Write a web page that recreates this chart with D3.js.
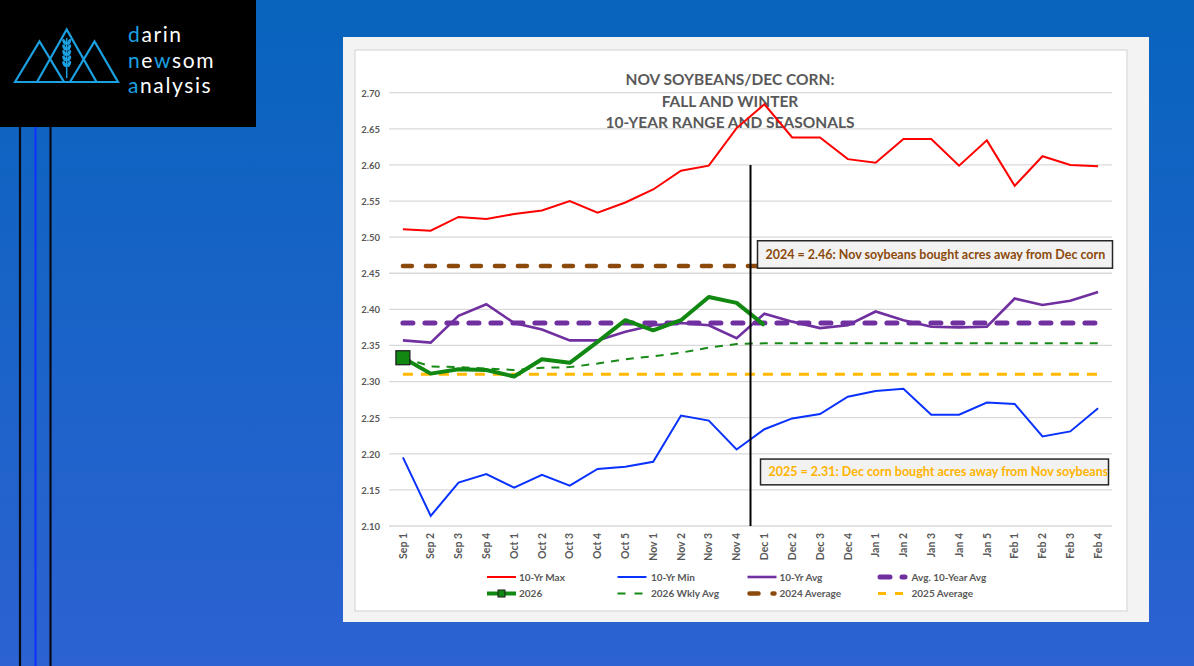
<!DOCTYPE html>
<html>
<head>
<meta charset="utf-8">
<script src="https://cdn.jsdelivr.net/npm/d3@7"></script>
<style>
  body { margin:0; padding:0; overflow:hidden; }
  #chart-area { width:1194px; height:666px; }
  text { font-family: Lato, "Open Sans", sans-serif; }
</style>
</head>
<body>
<div id="chart-area"></div>
<script>
// weekly categories, Sep through Feb
var cats = ["Sep 1","Sep 2","Sep 3","Sep 4","Oct 1","Oct 2","Oct 3","Oct 4","Oct 5",
            "Nov 1","Nov 2","Nov 3","Nov 4","Dec 1","Dec 2","Dec 3","Dec 4",
            "Jan 1","Jan 2","Jan 3","Jan 4","Jan 5","Feb 1","Feb 2","Feb 3","Feb 4"];

var maxVals = [2.511,2.509,2.528,2.525,2.532,2.537,2.550,2.534,2.548,2.566,2.592,2.599,2.651,
               2.684,2.638,2.638,2.608,2.603,2.636,2.636,2.599,2.634,2.571,2.612,2.600,2.598];
var minVals = [2.195,2.114,2.160,2.172,2.153,2.171,2.156,2.179,2.182,2.189,2.253,2.246,2.206,
               2.234,2.249,2.255,2.279,2.287,2.290,2.254,2.254,2.271,2.269,2.224,2.231,2.263];
var avgVals = [2.357,2.354,2.391,2.407,2.381,2.372,2.357,2.357,2.369,2.378,2.381,2.378,2.360,
               2.394,2.383,2.374,2.378,2.397,2.385,2.376,2.375,2.376,2.415,2.406,2.412,2.424];
var vals2026 = [2.333,2.311,2.317,2.316,2.307,2.331,2.326,2.355,2.385,2.371,2.385,2.417,2.409,2.378];
var wklyAvg = [2.333,2.321,2.320,2.318,2.316,2.319,2.320,2.325,2.331,2.335,2.340,2.347,2.352,
               2.353,2.353,2.353,2.353,2.353,2.353,2.353,2.353,2.353,2.353,2.353,2.353,2.353];
var avg10 = 2.381, avg2024 = 2.46, avg2025 = 2.31;
var yTicks = [2.10,2.15,2.20,2.25,2.30,2.35,2.40,2.45,2.50,2.55,2.60,2.65,2.70];
var titleLines = ["NOV SOYBEANS/DEC CORN:", "FALL AND WINTER", "10-YEAR RANGE AND SEASONALS"];
var note2024 = "2024 = 2.46: Nov soybeans bought acres away from Dec corn";
var note2025 = "2025 = 2.31: Dec corn bought acres away from Nov soybeans";

document.addEventListener("DOMContentLoaded", function (event) {

  var W = 1194, H = 666;
  var svg = d3.select("#chart-area")
      .append("svg")
          .attr("width", W)
          .attr("height", H);

  // blue slide background
  var defs = svg.append("defs");
  var grad = defs.append("linearGradient").attr("id", "bg").attr("x1", 0).attr("y1", 0).attr("x2", 0).attr("y2", 1);
  grad.append("stop").attr("offset", "0%").attr("stop-color", "#0864bd");
  grad.append("stop").attr("offset", "100%").attr("stop-color", "#2c62d2");
  svg.append("rect").attr("width", W).attr("height", H).attr("fill", "url(#bg)");

  // clip for the annotation text that runs past its box
  defs.append("clipPath").attr("id", "clip2025").append("rect")
    .attr("x", 760).attr("y", 455).attr("width", 347).attr("height", 34);

  // left decoration lines
  [[20, "#0a0a14"], [35.5, "#1232ff"], [50.5, "#0a0a14"]].forEach(function (l) {
    svg.append("line").attr("x1", l[0]).attr("x2", l[0]).attr("y1", 126).attr("y2", H)
      .attr("stroke", l[1]).attr("stroke-width", 2.2);
  });

  // logo block
  var logo = svg.append("g");
  logo.append("rect").attr("width", 256).attr("height", 127).attr("fill", "#000");
  var lb = "#1ba1e2";
  var tri = [[15,82,39.5,41.5,64,82],[37,82,66.7,29.5,96.5,82],[70,82,94.5,41.5,118,82]];
  tri.forEach(function (t) {
    logo.append("path")
      .attr("d", "M" + t[0] + "," + t[1] + "L" + t[2] + "," + t[3] + "L" + t[4] + "," + t[5] + "Z")
      .attr("fill", "none").attr("stroke", lb).attr("stroke-width", 2.2).attr("stroke-linejoin", "miter");
  });
  // wheat stalk
  logo.append("line").attr("x1", 66.7).attr("x2", 66.7).attr("y1", 38).attr("y2", 78)
    .attr("stroke", lb).attr("stroke-width", 1.5);
  d3.range(5).forEach(function (i) {
    var yy = 42 + i * 5.5;
    logo.append("ellipse").attr("cx", 64.3).attr("cy", yy).attr("rx", 1.6).attr("ry", 3.2)
      .attr("transform", "rotate(-25," + 64.3 + "," + yy + ")").attr("fill", lb);
    logo.append("ellipse").attr("cx", 69.1).attr("cy", yy).attr("rx", 1.6).attr("ry", 3.2)
      .attr("transform", "rotate(25," + 69.1 + "," + yy + ")").attr("fill", lb);
  });
  var words = [[["d", lb], ["arin", "#fff"]], [["n", lb], ["e", "#fff"], ["w", lb], ["som", "#fff"]], [["a", lb], ["nalysis", "#fff"]]];
  words.forEach(function (w, i) {
    var t = logo.append("text").attr("x", 128).attr("y", 42 + i * 25.5)
      .attr("font-size", "21px").attr("letter-spacing", "1.6px")
      .attr("font-family", "Lato, sans-serif").attr("font-weight", 400);
    w.forEach(function (p) { t.append("tspan").attr("fill", p[1]).text(p[0]); });
  });

  // chart panel
  svg.append("rect").attr("x", 343).attr("y", 37).attr("width", 806).attr("height", 585).attr("fill", "#f3f3f3");
  svg.append("rect").attr("x", 355).attr("y", 50).attr("width", 772).attr("height", 561)
    .attr("fill", "#fff").attr("stroke", "#d9d9d9").attr("stroke-width", 1.2);

  var g = svg.append("g");

  var x = d3.scaleBand().domain(cats).range([389, 1112]);
  var y = d3.scaleLinear().domain([2.10, 2.70]).range([526, 92.7]);
  var cx = function (c) { return x(c) + x.bandwidth() / 2; };

  // gridlines
  g.selectAll(".grid").data(yTicks).enter().append("line")
    .attr("class", "grid")
    .attr("x1", 389).attr("x2", 1112)
    .attr("y1", d => y(d)).attr("y2", d => y(d))
    .attr("stroke", "#d9d9d9").attr("stroke-width", 1.3);

  // y axis labels
  var yAxis = d3.axisLeft(y).tickValues(yTicks).tickFormat(d3.format(".2f")).tickSize(0).tickPadding(0);
  g.append("g").attr("class", "y-axis").attr("transform", "translate(380,0)").call(yAxis)
    .call(s => s.select(".domain").remove())
    .selectAll("text").attr("fill", "#595959").attr("font-size", "9.5px").attr("font-weight", 700)
    .attr("font-family", "Lato, sans-serif").attr("dy", "0.35em");

  // x axis labels (rotated)
  var xAxis = d3.axisBottom(x).tickSize(0).tickPadding(0);
  g.append("g").attr("class", "x-axis").attr("transform", "translate(0,526)").call(xAxis)
    .call(s => s.select(".domain").remove())
    .selectAll("text")
      .attr("fill", "#595959").attr("font-size", "10.5px").attr("font-weight", 700)
      .attr("font-family", "Lato, sans-serif")
      .attr("transform", "rotate(-90)")
      .attr("text-anchor", "end")
      .attr("x", -7).attr("y", 0).attr("dy", "0.35em");

  // title
  g.selectAll(".title").data(titleLines).enter().append("text")
    .attr("class", "title")
    .attr("x", 730).attr("y", (d, i) => 85 + i * 21.5)
    .attr("text-anchor", "middle").attr("font-size", "15.5px").attr("font-weight", 700)
    .attr("fill", "#595959").text(d => d);

  // horizontal average lines
  var x0 = cx(cats[0]), x1 = cx(cats[cats.length - 1]);
  function hline(v, color, w, dash, cap) {
    g.append("line").attr("x1", x0).attr("x2", x1).attr("y1", y(v)).attr("y2", y(v))
      .attr("stroke", color).attr("stroke-width", w).attr("stroke-dasharray", dash)
      .attr("stroke-linecap", cap);
  }
  hline(avg2024, "#8b4a0c", 4.5, "9,14", "round");
  hline(avg2025, "#ffb900", 3, "10,8", "butt");
  hline(avg10, "#7030a0", 5, "10,12", "round");

  var line = d3.line().x((d, i) => cx(cats[i])).y(d => y(d));

  g.append("path").datum(maxVals).attr("d", line).attr("fill", "none").attr("stroke", "#ff0000").attr("stroke-width", 2);
  g.append("path").datum(minVals).attr("d", line).attr("fill", "none").attr("stroke", "#0a32ff").attr("stroke-width", 2);
  g.append("path").datum(wklyAvg).attr("d", line).attr("fill", "none").attr("stroke", "#178a17")
    .attr("stroke-width", 2).attr("stroke-dasharray", "8,7");
  g.append("path").datum(avgVals).attr("d", line).attr("fill", "none").attr("stroke", "#7030a0").attr("stroke-width", 2.6);
  g.append("path").datum(vals2026).attr("d", line).attr("fill", "none").attr("stroke", "#118811")
    .attr("stroke-width", 4).attr("stroke-linejoin", "round");

  // marker on first 2026 point
  g.append("rect").attr("x", cx(cats[0]) - 7).attr("y", y(vals2026[0]) - 7)
    .attr("width", 14).attr("height", 14).attr("fill", "#118811").attr("stroke", "#1a1a1a").attr("stroke-width", 1.2);

  // divider between Nov and Dec
  var xd = x("Dec 1");
  g.append("line").attr("x1", xd).attr("x2", xd).attr("y1", y(2.60)).attr("y2", y(2.10))
    .attr("stroke", "#000").attr("stroke-width", 2);

  // annotation boxes
  function note(txt, color, bx, top, bot, bw, clip) {
    g.append("rect").attr("x", bx).attr("y", y(top)).attr("width", bw).attr("height", y(bot) - y(top))
      .attr("fill", "#f2f2f2").attr("stroke", "#262626").attr("stroke-width", 1.5);
    g.append("text").attr("x", bx + 8).attr("y", (y(top) + y(bot)) / 2).attr("dy", "0.36em")
      .attr("clip-path", clip ? "url(#" + clip + ")" : null)
      .attr("fill", color).attr("font-size", "12.5px").attr("font-weight", 700).text(txt);
  }
  note(note2024, "#8b4a0c", xd + 7, 2.495, 2.457, 355);
  note(note2025, "#ffb400", xd + 10, 2.1927, 2.157, 348, "clip2025");

  // legend
  var legend = [
    { label: "10-Yr Max", color: "#ff0000", w: 2, dash: null, row: 0, col: 0 },
    { label: "10-Yr Min", color: "#0a32ff", w: 2, dash: null, row: 0, col: 1 },
    { label: "10-Yr Avg", color: "#7030a0", w: 2.6, dash: null, row: 0, col: 2 },
    { label: "Avg. 10-Year Avg", color: "#7030a0", w: 5, dash: "10,12", row: 0, col: 3, cap: "round" },
    { label: "2026", color: "#118811", w: 4, dash: null, row: 1, col: 0, marker: true },
    { label: "2026 Wkly Avg", color: "#178a17", w: 2, dash: "8,9", row: 1, col: 1 },
    { label: "2024 Average", color: "#8b4a0c", w: 4.5, dash: "9,14", row: 1, col: 2, cap: "round" },
    { label: "2025 Average", color: "#ffb900", w: 3, dash: "8,9", row: 1, col: 3 }
  ];
  var colX = [487, 617.5, 747.5, 878];
  var lg = g.selectAll(".legend").data(legend).enter().append("g").attr("class", "legend")
    .attr("transform", d => "translate(" + colX[d.col] + "," + (577 + d.row * 16.5) + ")");
  lg.append("line").attr("x1", d => d.cap ? 2 : 0).attr("x2", d => d.cap ? 27 : 29).attr("y1", 0).attr("y2", 0)
    .attr("stroke", d => d.color).attr("stroke-width", d => d.w)
    .attr("stroke-dasharray", d => d.dash).attr("stroke-linecap", d => d.cap || "butt");
  lg.filter(d => d.marker).append("rect").attr("x", 11).attr("y", -3.5).attr("width", 7).attr("height", 7)
    .attr("fill", "#118811").attr("stroke", "#1a1a1a").attr("stroke-width", 1);
  lg.append("text").attr("x", d => d.col === 0 || d.col === 2 ? 32 : 33.5).attr("y", 0).attr("dy", "0.35em")
    .attr("font-size", "10px").attr("font-weight", 700).attr("fill", "#595959").text(d => d.label);

});
</script>
</body>
</html>
